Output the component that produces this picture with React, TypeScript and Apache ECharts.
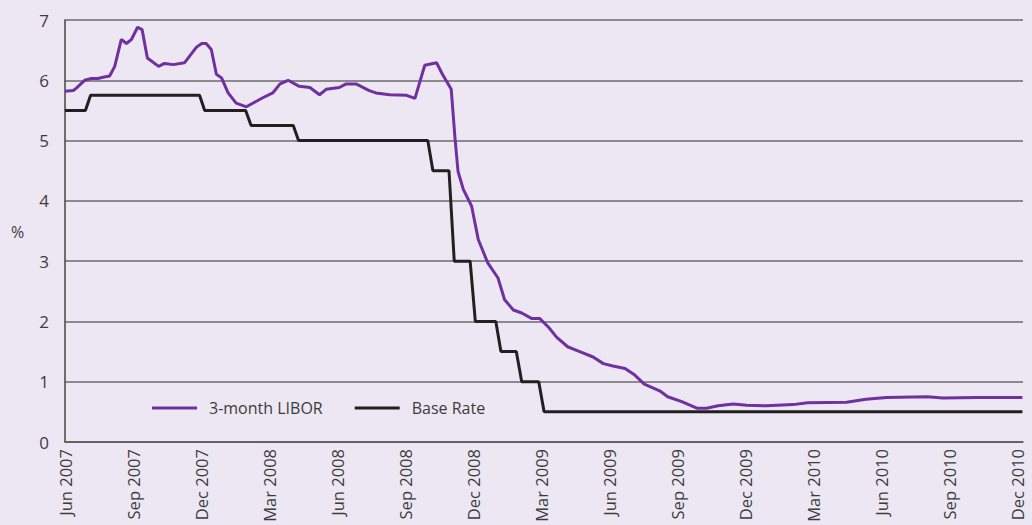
import React, { useEffect, useRef } from "react";
import * as echarts from "echarts";

const tickLabels = [
  "Jun 2007", "Sep 2007", "Dec 2007", "Mar 2008", "Jun 2008", "Sep 2008", "Dec 2008",
  "Mar 2009", "Jun 2009", "Sep 2009", "Dec 2009", "Mar 2010", "Jun 2010", "Sep 2010", "Dec 2010",
];

const liborDates = [
  "2007-06-01", "2007-06-12", "2007-06-16", "2007-06-27", "2007-07-06", "2007-07-15", "2007-07-22",
  "2007-07-31", "2007-08-07", "2007-08-16", "2007-08-23", "2007-08-30", "2007-09-07", "2007-09-13",
  "2007-09-20", "2007-10-05", "2007-10-13", "2007-10-25", "2007-11-09", "2007-11-25", "2007-12-02",
  "2007-12-08", "2007-12-15", "2007-12-22", "2007-12-29", "2008-01-07", "2008-01-18", "2008-02-01",
  "2008-02-12", "2008-02-22", "2008-03-06", "2008-03-16", "2008-03-27", "2008-04-11", "2008-04-25",
  "2008-05-08", "2008-05-17", "2008-06-04", "2008-06-13", "2008-06-26", "2008-07-14", "2008-07-23",
  "2008-08-11", "2008-09-03", "2008-09-14", "2008-09-27", "2008-10-13", "2008-10-21", "2008-11-02",
  "2008-11-07", "2008-11-11", "2008-11-18", "2008-11-29", "2008-12-08", "2008-12-21", "2009-01-04",
  "2009-01-13", "2009-01-25", "2009-02-05", "2009-02-17", "2009-02-27", "2009-03-08", "2009-03-12",
  "2009-03-22", "2009-04-06", "2009-04-22", "2009-05-10", "2009-05-24", "2009-06-06", "2009-06-22",
  "2009-07-05", "2009-07-18", "2009-08-08", "2009-08-19", "2009-09-07", "2009-09-27", "2009-10-10",
  "2009-10-26", "2009-11-15", "2009-12-03", "2009-12-30", "2010-02-04", "2010-02-22", "2010-04-15",
  "2010-05-11", "2010-06-08", "2010-08-02", "2010-08-23", "2010-10-07", "2010-12-08",
];

const liborValues = [
  5.82, 5.83, 5.87, 6.0, 6.03, 6.03, 6.05,
  6.07, 6.23, 6.68, 6.61, 6.68, 6.88, 6.84,
  6.37, 6.23, 6.28, 6.26, 6.29, 6.55, 6.61,
  6.61, 6.51, 6.1, 6.04, 5.79, 5.62, 5.56,
  5.64, 5.71, 5.79, 5.94, 6.0, 5.9, 5.88,
  5.76, 5.85, 5.88, 5.94, 5.94, 5.83, 5.79,
  5.76, 5.75, 5.7, 6.25, 6.29, 6.1, 5.85,
  5.04, 4.49, 4.19, 3.91, 3.36, 2.97, 2.72,
  2.36, 2.19, 2.14, 2.05, 2.05, 1.94, 1.89,
  1.74, 1.58, 1.5, 1.41, 1.3, 1.26, 1.22,
  1.11, 0.96, 0.85, 0.75, 0.67, 0.56, 0.56,
  0.6, 0.63, 0.61, 0.6, 0.62, 0.65, 0.66,
  0.71, 0.74, 0.75, 0.73, 0.74, 0.74,
];

const baseDates = [
  "2007-06-01", "2007-06-28", "2007-07-05", "2007-11-29", "2007-12-06", "2008-01-31", "2008-02-07",
  "2008-04-03", "2008-04-10", "2008-10-01", "2008-10-08", "2008-10-30", "2008-11-06", "2008-11-27",
  "2008-12-04", "2009-01-01", "2009-01-08", "2009-01-29", "2009-02-05", "2009-02-26", "2009-03-05",
  "2010-12-08",
];

const baseValues = [
  5.5, 5.5, 5.75, 5.75, 5.5, 5.5, 5.25,
  5.25, 5.0, 5.0, 4.5, 4.5, 3.0, 3.0,
  2.0, 2.0, 1.5, 1.5, 1.0, 1.0, 0.5,
  0.5,
];

function monthIndex(s: string): number {
  const [y, m, d] = s.split("-").map(Number);
  const dim = new Date(y, m, 0).getDate();
  return (y - 2007) * 12 + (m - 6) + (d - 1) / dim;
}

const FONT = "Open Sans";
const TEXT = "#3c3c3c";

export default function App() {
  const ref = useRef<HTMLDivElement>(null);
  useEffect(() => {
    if (!ref.current) return;
    const chart = echarts.init(ref.current, null, { renderer: "svg" });
    chart.setOption({
      animation: false,
      backgroundColor: "#ECE7F2",
      textStyle: { fontFamily: FONT },
      grid: {
        left: 65,
        right: 9,
        top: 20,
        bottom: 83,
        containLabel: false,
        outerBoundsMode: "none",
      },
      legend: {
        left: 152,
        top: 400,
        padding: 0,
        icon: "rect",
        itemWidth: 45,
        itemHeight: 3,
        itemGap: 32,
        textStyle: { fontFamily: FONT, fontSize: 16, color: TEXT, padding: [0, 0, 0, 7] },
        data: ["3-month LIBOR", "Base Rate"],
      },
      graphic: [
        {
          type: "text",
          left: 11,
          top: 224,
          style: { text: "%", fontFamily: FONT, fontSize: 16, fill: TEXT },
        },
      ],
      xAxis: {
        type: "value",
        min: 0,
        max: 42.25,
        interval: 3,
        axisLine: { show: true, lineStyle: { color: "#555", width: 1.5 } },
        axisTick: { show: false },
        splitLine: { show: false },
        axisLabel: {
          rotate: 90,
          margin: 7,
          fontFamily: FONT,
          fontSize: 16.5,
          color: TEXT,
          showMaxLabel: false,
          formatter: (v: number) =>
            Math.abs(v / 3 - Math.round(v / 3)) < 1e-6 ? tickLabels[Math.round(v / 3)] ?? "" : "",
        },
      },
      yAxis: {
        type: "value",
        min: 0,
        max: 7,
        interval: 1,
        axisLine: { show: true, lineStyle: { color: "#444", width: 1.5 } },
        axisTick: { show: false },
        splitLine: { show: true, lineStyle: { color: "#6e6a70", width: 1.5 } },
        axisLabel: { margin: 16, fontFamily: FONT, fontSize: 17, color: TEXT },
      },
      series: [
        {
          name: "3-month LIBOR",
          type: "line",
          symbol: "none",
          lineStyle: { color: "#7030A0", width: 3 },
          itemStyle: { color: "#7030A0" },
          data: liborDates.map((d, i) => [monthIndex(d), liborValues[i]]),
          z: 3,
        },
        {
          name: "Base Rate",
          type: "line",
          symbol: "none",
          lineStyle: { color: "#231F20", width: 3 },
          itemStyle: { color: "#231F20" },
          data: baseDates.map((d, i) => [monthIndex(d), baseValues[i]]),
          z: 2,
        },
      ],
    });
    return () => chart.dispose();
  }, []);
  return <div ref={ref} style={{ width: 1032, height: 525, position: "absolute", left: 0, top: 0 }} />;
}
